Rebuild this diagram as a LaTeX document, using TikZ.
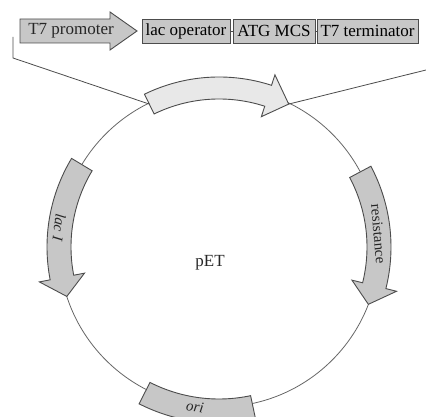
\documentclass[tikz,border=0pt]{standalone}
\usepackage{fontspec}
\setmainfont{Liberation Serif}
\newcommand{\arcarrow}[7]{% style, start, headbase, tip, r, w, h
  \path[#1] (#2:{#5+#6}) arc[start angle=#2, end angle=#3, radius={#5+#6}]
    -- (#3:{#5+#7}) -- (#4:#5) -- (#3:{#5-#7}) -- (#3:{#5-#6})
    arc[start angle=#3, end angle=#2, radius={#5-#6}] -- cycle;}
\begin{document}
\begin{tikzpicture}[x=1pt,y=1pt]
\tikzset{
  partbox/.style={draw=black!70, fill=black!22, line width=0.9pt, inner sep=0pt,
    font=\fontsize{17}{17}\selectfont, minimum height=24pt},
  partshape/.style={draw=black!70, fill=black!22, line width=0.9pt},
  arcpart/.style={draw=black!70, fill=black!22, line width=0.9pt},
  toparc/.style={arcpart, fill=black!9},
  ring/.style={draw=black!60, line width=0.8pt},
  link/.style={draw=black!70, line width=0.8pt},
  lbl/.style={font=\fontsize{15}{15}\selectfont, text=black!85, inner sep=0pt},
  txt/.style={font=\fontsize{17}{17}\selectfont, text=black!85, inner sep=0pt},
}
\useasboundingbox (0,0) rectangle (426,417);
% top construct
\path[partshape] (20,374) -- (110,374) -- (110,367) -- (137,386) -- (110,405) -- (110,398) -- (20,398) -- cycle;
\node[txt] (prom) at (71,386) {T7 promoter};
\coordinate (promtip) at (137,386);
\node[partbox, minimum width=88pt] (lacop) at (186,386) {lac operator};
\node[partbox, minimum width=82pt] (mcs) at (274,386) {ATG MCS};
\node[partbox, minimum width=101pt] (term) at (367.5,386) {T7 terminator};
\draw[link] (lacop.east) -- (mcs.west);
\draw[link] (mcs.east) -- (term.west);
% plasmid
\begin{scope}[shift={(219,170)}]
  \draw[ring] (0,0) circle[radius=160];
  \arcarrow{toparc}{116}{72}{64}{159}{11}{22}
  \arcarrow{arcpart}{149}{191}{198}{160}{12}{23}
  \arcarrow{arcpart}{28}{-14}{-21}{160}{12}{23}
  \path[arcpart] (243:176) arc[start angle=243, end angle=282, radius=176]
    -- (282:152) arc[start angle=282, end angle=243, radius=152] -- cycle;
  \coordinate (tail) at (116:159);
  \coordinate (tip) at (64:159);
  \node[lbl, rotate=-97] (lacI) at (173:161) {\itshape lac I};
  \node[lbl, rotate=-85] (res) at (4.7:160) {resistance};
  \node[lbl, rotate=-8] (ori) at (261.5:162) {\itshape ori};
  \node[txt] (pet) at (-9,-16) {pET};
\end{scope}
\coordinate (lstart) at (13,380);
\coordinate (lbend) at (13,359);
\coordinate (rend) at (426,347);
\draw[link] (lstart) -- (lbend) -- (tail);
\draw[link] (tip) -- (rend);
\end{tikzpicture}
\end{document}
